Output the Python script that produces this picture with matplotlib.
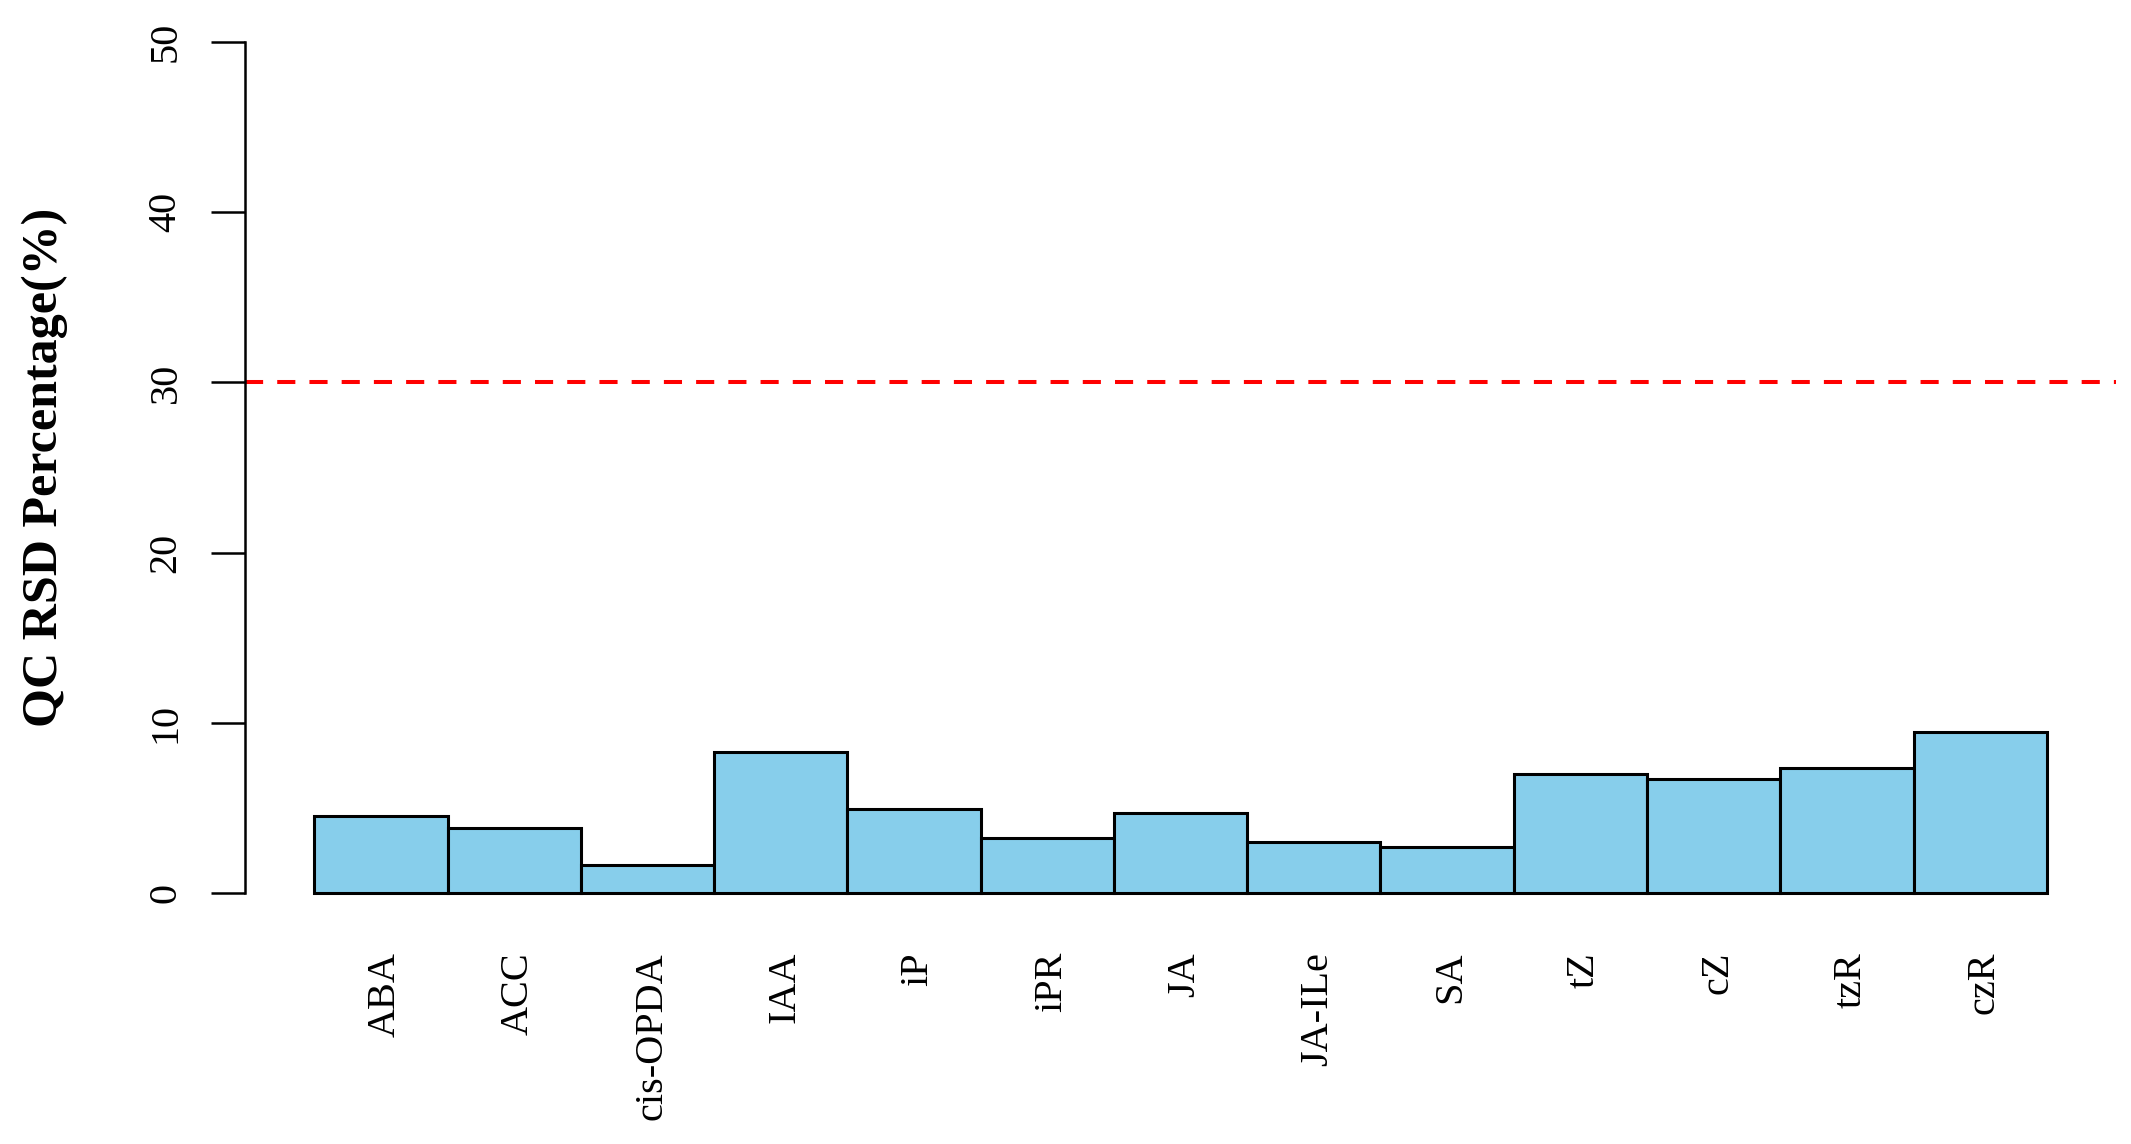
import numpy as np
import matplotlib
matplotlib.use("Agg")
import matplotlib.pyplot as plt
import matplotlib.transforms as mtrans

plt.rcParams['font.family'] = ['Liberation Serif', 'DejaVu Serif']

# QC RSD values per hormone
hormones = ['ABA', 'ACC', 'cis-OPDA', 'IAA', 'iP', 'iPR', 'JA',
            'JA-ILe', 'SA', 'tZ', 'cZ', 'tzR', 'czR']
rsd = [4.52, 3.84, 1.66, 8.28, 4.95, 3.25, 4.70,
       3.02, 2.72, 7.01, 6.72, 7.36, 9.46]
y_ticks = [0, 10, 20, 30, 40, 50]
cutoff = 30

fig = plt.figure(figsize=(21.31, 11.44), dpi=100)
ax = fig.add_axes([0.115, 0.1897, 0.878, 0.8033])

x = np.arange(len(hormones))
ax.bar(x, rsd, width=1, align='edge', color='#87CEEB',
       edgecolor='black', linewidth=2.2)
ax.axhline(cutoff, color='red', linewidth=2.9, linestyle=(0, (4.5, 3.5)))

ax.set_xlim(-0.52, len(hormones) + 0.52)
ax.set_ylim(-2, 52)

for s in ['top', 'right', 'bottom']:
    ax.spines[s].set_visible(False)
ax.spines['left'].set_bounds(0, 50)
ax.spines['left'].set_linewidth(1.8)

ax.set_yticks(y_ticks)
ax.set_yticklabels([str(t) for t in y_ticks], fontsize=29, rotation=90)
for lab in ax.get_yticklabels():
    lab.set_va('center')
ax.tick_params(axis='y', length=24.5, width=1.8, pad=19)

ax.set_xticks(x + 0.5)
ax.set_xticklabels(hormones, rotation=90, fontsize=29)
ax.tick_params(axis='x', length=0, pad=18)
shift = mtrans.ScaledTranslation(4 / 100, 0, fig.dpi_scale_trans)
for lab in ax.get_xticklabels():
    lab.set_transform(lab.get_transform() + shift)

ax.set_ylabel('QC RSD Percentage(%)', fontsize=36, fontweight='bold')
ax.yaxis.set_label_coords(-0.107, 0.5)
ax.yaxis.label.set_va('center')

fig.savefig('out.png', dpi=100)
